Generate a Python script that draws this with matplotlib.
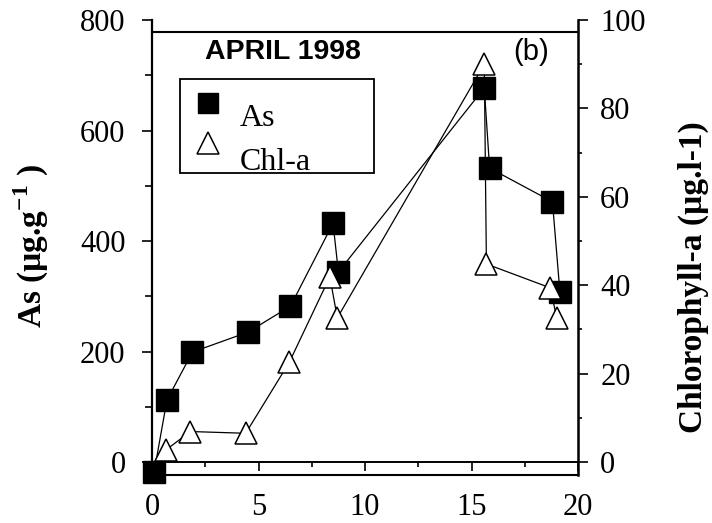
import matplotlib
matplotlib.use("Agg")
import matplotlib.pyplot as plt
from matplotlib.patches import Rectangle
from matplotlib.lines import Line2D
from matplotlib.ticker import MultipleLocator, FixedLocator

# ---- data ----
days_as = [0.1, 0.7, 1.9, 4.5, 6.5, 8.5, 8.75, 15.6, 15.85, 18.8, 19.15]
as_vals = [-18, 112, 199, 235, 282, 432, 344, 677, 532, 471, 308]
days_chl = [0.65, 1.8, 4.4, 6.45, 8.35, 8.7, 15.6, 15.7, 18.7, 19.0]
chl_vals = [2.7, 6.9, 6.5, 22.6, 41.9, 32.6, 90, 44.8, 39.4, 32.6]

x_ticks = [0, 5, 10, 15, 20]
as_ticks = [0, 200, 400, 600, 800]
chl_ticks = [0, 20, 40, 60, 80, 100]

title = "APRIL 1998"
panel = "(b)"
left_label = "As (µg.g$^{\\mathregular{-1}}$ )"
right_label = "Chlorophyll-a (µg.l-1)"

serif = ["Liberation Serif", "DejaVu Serif"]
sans = ["Liberation Sans", "DejaVu Sans"]

fig = plt.figure(figsize=(7.12, 5.23), dpi=100)
ax = fig.add_axes([152/712, 48/523, 426/712, 455/523])
ax2 = ax.twinx()

ax.set_xlim(0, 20)
ax.set_ylim(-23.5, 800)
ax2.set_ylim(-23.5/8, 100)

# series
ax.plot(days_as, as_vals, color="black", lw=0.9, marker="s", ms=15.5,
        mfc="black", mec="black", mew=1, zorder=3, clip_on=False)
ax2.plot(days_chl, chl_vals, color="black", lw=0.9, marker="^", ms=16,
         mfc="white", mec="black", mew=1.1, zorder=4, clip_on=False)

# spines
for s in ["top", "right"]:
    ax.spines[s].set_visible(False)
for s in ["top", "left", "bottom"]:
    ax2.spines[s].set_visible(False)
ax.spines["left"].set_linewidth(1.6)
ax.spines["bottom"].set_position(("data", 0))
ax.spines["bottom"].set_linewidth(1.4)
ax2.spines["right"].set_linewidth(1.8)
ax.axhline(778, color="black", lw=1.5, clip_on=False, zorder=2)
ax.axhline(-23.5, color="black", lw=1.5, clip_on=False, zorder=2)

# ticks
ax.xaxis.set_major_locator(FixedLocator(x_ticks))
ax.xaxis.set_minor_locator(MultipleLocator(2.5))
ax.yaxis.set_major_locator(FixedLocator(as_ticks))
ax.yaxis.set_minor_locator(MultipleLocator(100))
ax2.yaxis.set_major_locator(FixedLocator(chl_ticks))
ax2.yaxis.set_minor_locator(MultipleLocator(10))

ax.tick_params(axis="x", which="major", direction="out", length=6.5, width=1.2, pad=16)
ax.tick_params(axis="x", which="minor", direction="out", length=3.5, width=1.2)
ax.tick_params(axis="y", which="major", direction="out", length=7, width=1.2, pad=12)
ax.tick_params(axis="y", which="minor", direction="out", length=5, width=1.2)
ax2.tick_params(axis="y", which="major", direction="out", length=7, width=1.2, pad=9)
ax2.tick_params(axis="y", which="minor", direction="out", length=3, width=1.2)

for lab in ax.get_xticklabels() + ax.get_yticklabels() + ax2.get_yticklabels():
    lab.set_fontfamily(serif)
    lab.set_fontsize(22)

# axis labels
fig.text(31/712, 1 - 246/523, left_label, rotation=90, ha="center", va="center",
         fontsize=24, fontweight="bold", family=serif)
fig.text(693/712, 1 - 277/523, right_label, rotation=90, ha="center", va="center",
         fontsize=24, fontweight="bold", family=serif)

# title and panel tag
ax.text(0.124, 0.93, title, transform=ax.transAxes, ha="left", va="center",
        fontsize=20.5, fontweight="bold", family=sans)
ax.text(0.847, 0.93, panel, transform=ax.transAxes, ha="left", va="center",
        fontsize=21, family=sans)

# manual legend
lx0, lx1 = (180-152)/426, (374-152)/426
ly1, ly0 = (475-79)/455, (475-173)/455
ax.add_patch(Rectangle((lx0, ly0), lx1 - lx0, ly1 - ly0, transform=ax.transAxes,
                       fill=False, edgecolor="black", lw=1.3, clip_on=False, zorder=5))
mx = (208-152)/426
ax.add_line(Line2D([mx], [(475-103)/455], transform=ax.transAxes, marker="s", ms=15,
                   mfc="black", mec="black", ls="none", zorder=6, clip_on=False))
ax.add_line(Line2D([mx], [(475-143)/455], transform=ax.transAxes, marker="^", ms=16,
                   mfc="white", mec="black", mew=1.1, ls="none", zorder=6, clip_on=False))
tx = (240-152)/426
ax.text(tx, (475-118)/455, "As", transform=ax.transAxes, ha="left", va="center",
        fontsize=23, family=serif, zorder=6)
ax.text(tx, (475-163)/455, "Chl-a", transform=ax.transAxes, ha="left", va="center",
        fontsize=23, family=serif, zorder=6)

fig.savefig("out.png", dpi=100)
